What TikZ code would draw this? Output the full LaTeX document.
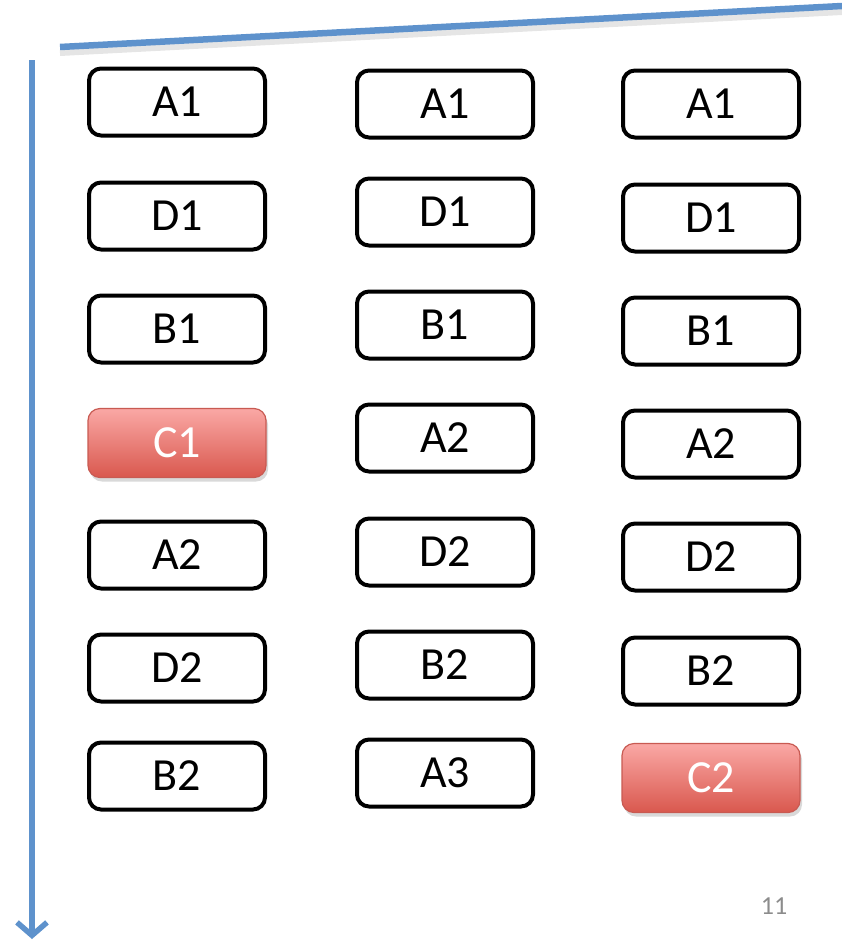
\documentclass[tikz,border=0pt]{standalone}
\usepackage{fontspec}
\setmainfont{Carlito}
\usetikzlibrary{arrows.meta,shadows}
\definecolor{lineblue}{RGB}{94,146,204}
\definecolor{redtop}{RGB}{250,168,165}
\definecolor{redbot}{RGB}{217,88,78}
\definecolor{redline}{RGB}{200,90,82}
\definecolor{pagegray}{RGB}{140,140,140}
\begin{document}
\begin{tikzpicture}[x=1pt,y=-1pt,
  blk/.style={draw=black,line width=4pt,rounded corners=12pt,
              minimum width=176pt,minimum height=67pt,inner sep=0pt,
              font=\fontsize{46}{50}\selectfont},
  hot/.style={draw=redline,line width=1.2pt,rounded corners=12pt,
              minimum width=178pt,minimum height=69pt,inner sep=0pt,
              top color=redtop,bottom color=redbot,text=white,
              font=\fontsize{46}{50}\selectfont,
              drop shadow={shadow xshift=2pt,shadow yshift=-4pt,opacity=0.3}},
  bar/.style={lineblue,line width=6.5pt}]
  \useasboundingbox (0,0) rectangle (842,943);
  % time axis and top rule
  \coordinate (rl) at (60,47);
  \coordinate (rr) at (842,6);
  \coordinate (at) at (32,60);
  \coordinate (ab) at (32,939);
  \draw[black!20,line width=6pt,opacity=0.5] ([yshift=-6pt]rl) -- ([yshift=-6pt]rr);
  \draw[bar] (rl) -- (rr);
  \draw[bar,line width=5.5pt,-{Straight Barb[length=13pt,width=30pt]}] (at) -- (ab);
  % first column
  \node[blk] (l1) at (177,102) {A1};
  \node[blk] (l2) at (177,216) {D1};
  \node[blk] (l3) at (177,329) {B1};
  \node[hot] (l4) at (177,443) {C1};
  \node[blk] (l5) at (177,555) {A2};
  \node[blk] (l6) at (177,668) {D2};
  \node[blk] (l7) at (177,776) {B2};
  % second column
  \foreach \lbl/\y [count=\i] in {A1/104,D1/212,B1/325,A2/438,D2/552,B2/665,A3/773}
    \node[blk] (m\i) at (445,\y) {\lbl};
  % third column
  \foreach \lbl/\y [count=\i] in {A1/104,D1/218,B1/331,A2/444,D2/557,B2/671}
    \node[blk] (r\i) at (711,\y) {\lbl};
  \node[hot] (r7) at (711,778) {C2};
  % page number
  \node[text=pagegray,font=\fontsize{26}{28}\selectfont] (pg) at (774,906) {11};
\end{tikzpicture}
\end{document}
